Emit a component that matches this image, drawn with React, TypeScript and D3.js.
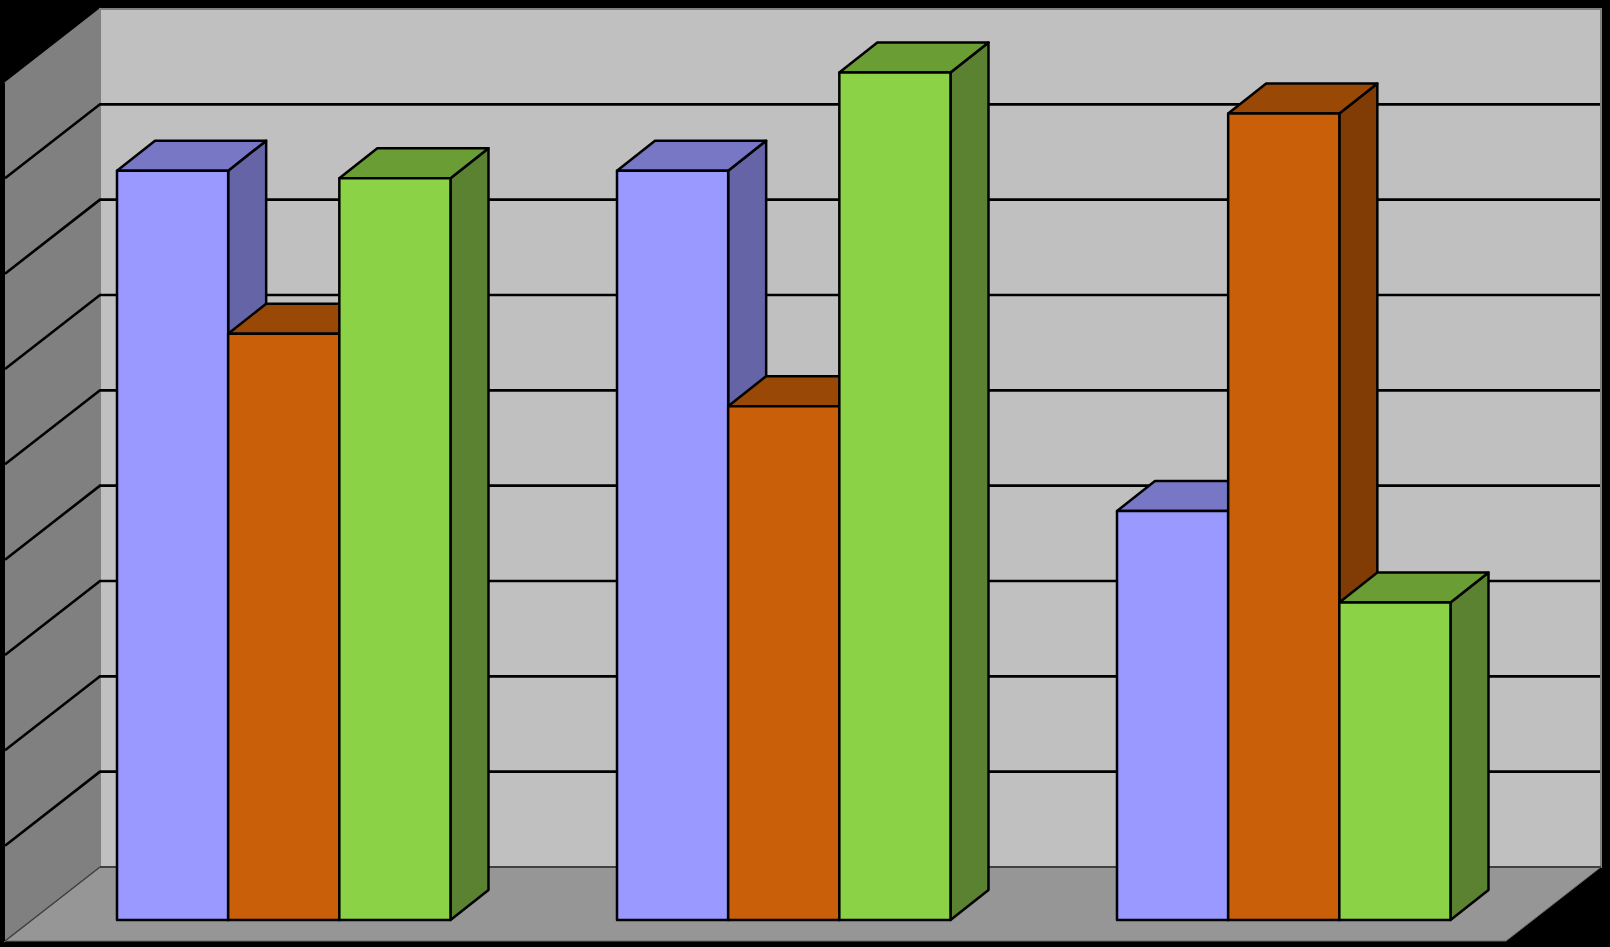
import React from "react";
import * as d3 from "d3";

const categories = ["A", "B", "C"];
const seriesNames = ["s1", "s2", "s3"];
const series1 = [7.86, 7.86, 4.29];
const series2 = [6.15, 5.39, 8.46];
const series3 = [7.78, 8.89, 3.33];
const tickValues = [0, 1, 2, 3, 4, 5, 6, 7, 8, 9];
const faceColors = ["#9999FF", "#C95F08", "#8CD246"];
const topColors = ["#7777C5", "#994806", "#6A9E35"];
const sideColors = ["#6464A6", "#803C04", "#5B8230"];

const W = 1610, H = 947;
const wallL = 100, wallR = 1601, wallBase = 867, wallTop = 9;
const floorDx = 95, floorDy = 74;
const barDx = 38, barDy = 30;
const barBase = 920;

const yWall = d3.scaleLinear().domain([0, 9]).range([wallBase, wallTop]);
const yBar = d3.scaleLinear().domain([0, 9]).range([barBase, barBase - (wallBase - wallTop)]);
const xGroup = d3.scaleBand().domain(categories).range([-83, 1417]).paddingInner(0).paddingOuter(0);
const xBar = d3.scaleBand().domain(seriesNames).range([200, 533.5]);

const poly = (pts: [number, number][]) => d3.line()(pts) + "Z";

export default function App() {
  const values = [series1, series2, series3];
  React.useEffect(() => {
    document.body.style.margin = "0";
    document.body.style.background = "#000";
  }, []);
  return (
    <svg width={W} height={H} style={{ display: "block", position: "absolute", left: 0, top: 0 }}>
      <rect width={W} height={H} fill="#000" />
      <path d={poly([[wallL, wallTop], [wallR, wallTop], [wallR, wallBase], [wallL, wallBase]])} fill="#C0C0C0" stroke="#808080" strokeWidth={2} />
      <path d={poly([[wallL - floorDx, wallTop + floorDy], [wallL, wallTop], [wallL, wallBase], [wallL - floorDx, wallBase + floorDy]])} fill="#808080" stroke="#808080" strokeWidth={1.5} />
      <path d={poly([[wallL, wallBase], [wallR, wallBase], [wallR - floorDx, wallBase + floorDy], [wallL - floorDx, wallBase + floorDy]])} fill="#969696" stroke="#6a6a6a" strokeWidth={1} />
      <line x1={wallL} x2={wallR} y1={wallBase} y2={wallBase} stroke="#404040" strokeWidth={2} />
      <line x1={wallL} y1={wallBase} x2={wallL - floorDx} y2={wallBase + floorDy} stroke="#404040" strokeWidth={1.5} />
      <line x1={wallL - floorDx - 1} y1={wallTop + floorDy} x2={wallL - floorDx - 1} y2={wallBase + floorDy} stroke="#000" strokeWidth={2} />
      {tickValues.filter((t) => t > 0 && t < 9).map((t) => (
        <path key={t} d={d3.line()([[wallL - floorDx, yWall(t) + floorDy], [wallL, yWall(t)], [wallR - 1, yWall(t)]]) as string} fill="none" stroke="#000" strokeWidth={2.6} />
      ))}
      {categories.map((c, gi) =>
        seriesNames.map((s, si) => {
          const x0 = (xGroup(c) as number) + (xBar(s) as number);
          const x1 = x0 + xBar.bandwidth();
          const yt = yBar(values[si][gi]);
          return (
            <g key={c + s} stroke="#000" strokeWidth={2.5} strokeLinejoin="round">
              <path d={poly([[x1, yt], [x1 + barDx, yt - barDy], [x1 + barDx, barBase - barDy], [x1, barBase]])} fill={sideColors[si]} />
              <path d={poly([[x0, yt], [x0 + barDx, yt - barDy], [x1 + barDx, yt - barDy], [x1, yt]])} fill={topColors[si]} />
              <rect x={x0} y={yt} width={x1 - x0} height={barBase - yt} fill={faceColors[si]} />
            </g>
          );
        })
      )}
    </svg>
  );
}
